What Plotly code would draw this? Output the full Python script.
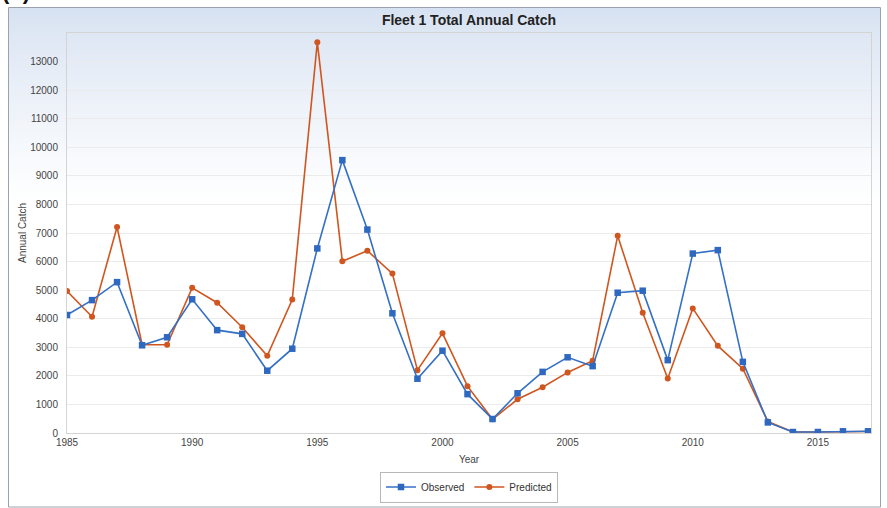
import plotly.graph_objects as go

years = list(range(1985, 2018))
observed = [4130, 4650, 5280, 3070, 3350, 4680, 3600, 3470, 2180, 2950,
            6460, 9550, 7120, 4190, 1900, 2880, 1360, 490, 1390, 2140,
            2650, 2340, 4910, 4980, 2550, 6280, 6400, 2490, 370, 35,
            35, 60, 60]
predicted = [4970, 4070, 7210, 3090, 3090, 5080, 4560, 3700, 2700, 4670,
             13680, 6010, 6380, 5580, 2200, 3490, 1640, 480, 1180, 1600,
             2120, 2530, 6900, 4210, 1910, 4360, 3050, 2250, 400, 35,
             35, 55, 55]
y_ticks = list(range(0, 14000, 1000))
x_ticks = [1985, 1990, 1995, 2000, 2005, 2010, 2015]

W, H = 887, 508
L, R, T, B = 67, 871, 33, 433

def px_y(p):
    return (B - p) / (B - T)

def px_x(q):
    return (q - L) / (R - L)

shapes = []
# vertical gradient background (light blue at top fading to white)
top, bot, step = 8, 200, 3
c0 = (214, 225, 241)
c1 = (255, 255, 255)
y = top
while y < bot:
    f = (y - top) / (bot - top)
    f = f ** 0.8
    c = tuple(int(round(c0[i] + (c1[i] - c0[i]) * f)) for i in range(3))
    shapes.append(dict(type="rect", xref="paper", yref="paper",
                       x0=px_x(9), x1=px_x(880), y0=px_y(y + step + 0.5), y1=px_y(y),
                       fillcolor="rgb(%d,%d,%d)" % c, line=dict(width=0), layer="below"))
    y += step
# outer frame
shapes.append(dict(type="rect", xref="paper", yref="paper",
                   x0=px_x(8.5), x1=px_x(880.5), y0=px_y(507), y1=px_y(7.5),
                   line=dict(color="#9aa3ad", width=1), fillcolor="rgba(0,0,0,0)", layer="above"))

fig = go.Figure()
fig.add_trace(go.Scatter(
    x=years, y=predicted, name="Predicted", mode="lines+markers",
    line=dict(color="#d0561f", width=1.6),
    marker=dict(symbol="circle", size=6, color="#d0561f"),
))
fig.add_trace(go.Scatter(
    x=years, y=observed, name="Observed", mode="lines+markers",
    line=dict(color="#3470c4", width=1.6),
    marker=dict(symbol="square", size=6.5, color="#2f68c0"),
))

font_family = "Liberation Sans, Arial, sans-serif"
fig.update_layout(
    width=W, height=H,
    margin=dict(l=L, r=W - R, t=T, b=H - B, pad=0, autoexpand=False),
    paper_bgcolor="white",
    plot_bgcolor="rgba(0,0,0,0)",
    font=dict(family=font_family, size=10, color="#444444"),
    title=dict(text="<b>Fleet 1 Total Annual Catch</b>", x=px_x(469), xref="paper",
               xanchor="center", y=1 - 20 / H, yanchor="middle",
               font=dict(size=14, color="#222222", family=font_family)),
    shapes=shapes,
    showlegend=True,
    legend=dict(orientation="h", x=px_x(469), xanchor="center",
                yref="container", y=1 - 487 / H, yanchor="middle",
                bordercolor="#b8b8b8", borderwidth=1, bgcolor="rgba(255,255,255,0.8)",
                font=dict(size=10, color="#333333"), traceorder="reversed",
                itemwidth=30, tracegroupgap=0),
    xaxis=dict(range=[1985, 2017.12], tickvals=x_ticks, showgrid=False, automargin=False,
               showline=True, linecolor="#d4d4d4", mirror=True, zeroline=False,
               ticks="", tickfont=dict(size=10, color="#444444"),
               title=dict(text="Year", font=dict(size=10, color="#444444"), standoff=8)),
    yaxis=dict(range=[0, 14000], tickvals=y_ticks, tickformat="d", showgrid=True,
               gridcolor="#ebebeb", automargin=False,
               showline=True, linecolor="#d4d4d4", mirror=True, zeroline=False,
               ticks="", ticklabelstandoff=6, tickfont=dict(size=10, color="#444444"),
               title=dict(text="Annual Catch", font=dict(size=10, color="#444444"), standoff=1)),
    annotations=[dict(text="<b>(b)</b>", xref="paper", yref="paper", x=px_x(0), y=px_y(6),
                      xanchor="left", yanchor="bottom", showarrow=False,
                      font=dict(size=22, color="#111111", family=font_family))],
)

fig.write_html("out.html", config={"displayModeBar": False},
               post_script="document.body.style.margin='0';")
